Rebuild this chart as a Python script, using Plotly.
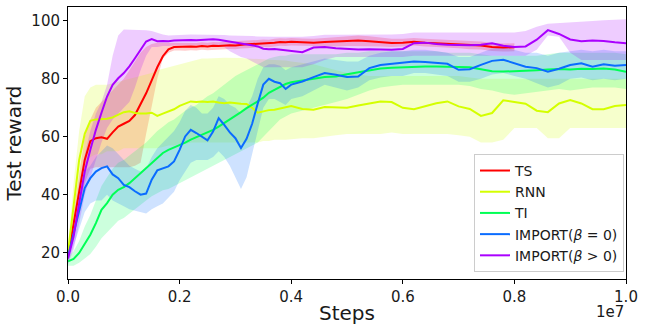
import plotly.graph_objects as go

# x positions in units of 1e7 steps
steps = [0.00, 0.01, 0.02, 0.03, 0.04, 0.05, 0.06, 0.07, 0.08, 0.09,
         0.10, 0.11, 0.12, 0.13, 0.14, 0.15, 0.16, 0.17, 0.18, 0.19,
         0.20, 0.21, 0.22, 0.23, 0.24, 0.25, 0.26, 0.27, 0.28, 0.29,
         0.30, 0.31, 0.32, 0.33, 0.34, 0.35, 0.36, 0.37, 0.38, 0.39,
         0.40, 0.42, 0.44, 0.46, 0.48, 0.50, 0.52, 0.54, 0.56, 0.58,
         0.60, 0.62, 0.64, 0.66, 0.68, 0.70, 0.72, 0.74, 0.76, 0.78,
         0.80, 0.82, 0.84, 0.86, 0.88, 0.90, 0.92, 0.94, 0.96, 0.98, 1.00]

# TS (ends at 0.80)
ts_mean = [19, 30, 41, 52, 58.5, 59.5, 59.8, 59.3, 61.5, 63.5,
           64.5, 65.5, 67.5, 71, 75, 79.5, 84, 87.8, 90.2, 91.0,
           91.1, 91.0, 91.2, 91.1, 91.3, 91.2, 91.4, 91.3, 91.5, 91.6,
           91.5, 91.8, 91.9, 92.0, 92.1, 92.3, 92.2, 92.5, 92.7, 92.6,
           92.8, 92.6, 92.5, 92.7, 92.8, 93.0, 93.2, 93.0, 92.7, 92.4,
           92.5, 92.8, 92.5, 92.3, 92.0, 91.9, 91.6, 91.5, 91.0, 90.8,
           90.9]
ts_lower = [17, 26, 35, 44, 49, 49.5, 49.5, 49.5, 49.5, 49.5,
            49.5, 49.5, 50, 51, 61, 71, 80, 87, 89, 89.8,
            89.8, 89.7, 89.9, 89.8, 90.0, 89.9, 90.1, 90.0, 90.2, 90.3,
            90.2, 90.5, 90.6, 90.7, 90.8, 91.0, 90.9, 91.2, 91.4, 91.3,
            91.5, 91.3, 91.2, 91.3, 91.2, 91.3, 91.4, 91.3, 91.2, 91.0,
            91.2, 91.5, 91.2, 91.0, 90.7, 90.6, 90.2, 90.1, 89.6, 89.4,
            89.5]
ts_upper = [21, 34, 47, 60, 66, 70, 72, 74, 76, 78,
            80, 83, 86, 89, 91, 92, 92.5, 92.5, 92.5, 92.4,
            92.4, 92.3, 92.5, 92.4, 92.6, 92.5, 92.7, 92.6, 92.8, 92.9,
            92.8, 93.1, 93.2, 93.3, 93.4, 93.6, 93.5, 93.8, 94.0, 93.9,
            94.1, 93.9, 93.8, 94.1, 94.4, 94.7, 95.0, 94.7, 94.2, 93.8,
            93.8, 94.1, 93.8, 93.6, 93.3, 93.2, 93.0, 92.9, 92.4, 92.2,
            92.3]

# RNN
rnn_mean = [20, 36, 52, 61, 65.5, 66, 66, 66.2, 66.7, 67.6,
            68.5, 68.8, 68.2, 68, 68, 68.3, 67.2, 68, 68.8, 69.5,
            70.7, 71.5, 72.2, 72.0, 72.2, 72.0, 72.2, 71.8, 71.6, 71.8,
            71.5, 71.4, 71.3, 70.0, 68.3, 68.8, 69.2, 69.3, 69.8, 70.3,
            70.6, 69.6, 69.3, 70.3, 70.2, 70.0, 70.8, 71.6, 72.2, 72.0,
            70.0, 69.5, 70.6, 71.6, 72.2, 70.5, 69.6, 67.2, 68.2, 72.6,
            72.0, 71.4, 69.0, 68.5, 71.5, 72.7, 71.5, 69.5, 69.5, 70.6, 71.0]
rnn_lower = [18, 28, 42, 50, 53, 54, 54, 55, 55, 55,
             56, 56, 56, 56, 56, 56, 56, 56.5, 57, 57,
             57.5, 57.5, 58, 58, 58, 58, 58, 58, 58, 58,
             58, 58, 58, 58, 58, 58.5, 58.5, 59, 59, 59,
             59, 59.5, 59.5, 60, 60.5, 61, 61, 61, 61, 61.5,
             61, 61, 61, 61, 61, 60.5, 60, 58, 58, 59,
             63, 63, 63, 59.5, 59.5, 63, 63, 63, 63, 63, 63]
rnn_upper = [22, 44, 62, 74, 77, 78, 78, 78, 78.5, 79,
             79.5, 80, 80.5, 81, 81.5, 82, 83, 83.5, 84, 84.5,
             85, 85.5, 86, 86.5, 87, 87, 87.2, 87.2, 87.3, 87.3,
             87.3, 87.2, 87, 87, 86.8, 86.8, 86.6, 86.5, 86.5, 86.3,
             86, 85.5, 85, 84, 83, 82, 81.5, 81, 81, 81,
             81, 81, 81, 81, 81, 81, 80.5, 80, 80, 80,
             80, 80, 80, 80, 80, 80, 80, 80, 80, 80, 80]

# TI
ti_mean = [17.0, 17.8, 19.9, 23.3, 26.2, 30.2, 34.8, 37.1, 40.0, 41.7,
           42.6, 44.0, 45.7, 47.5, 49.2, 50.9, 52.7, 54.4, 55.5, 56.3,
           57.2, 58.0, 59.0, 59.8, 60.7, 61.5, 62.4, 63.5, 64.7, 66.0,
           67.2, 68.5, 69.9, 71.0, 72.2, 73.5, 75.2, 76.2, 77.3, 78.2,
           78.8, 79.3, 80.0, 80.6, 80.8, 81.6, 82.3, 83.0, 83.6, 83.8,
           84.0, 84.2, 84.3, 84.3, 84.2, 84.3, 84.0, 83.3, 82.6, 82.5,
           82.6, 82.8, 83.0, 83.2, 83.4, 83.2, 83.5, 83.4, 83.6, 83.2, 82.4]
ti_lower = [15.5, 15.5, 16.5, 18, 19.5, 22, 25, 27, 29, 31,
            32, 33.5, 35, 36.5, 38, 39.5, 40.5, 41.5, 42, 43,
            44, 45, 46, 47, 48, 49, 50, 51, 52, 53,
            54, 55, 56, 57, 58, 60, 62, 64, 66, 67,
            68, 69, 70, 71, 72, 73, 74.5, 76, 77, 77.5,
            78, 78, 78, 78, 78, 78, 77.5, 76.5, 76, 75,
            74.5, 75, 75.5, 76, 76.5, 76, 76.5, 77, 77, 77, 76.5]
ti_upper = [18.5, 20.5, 24, 29, 33, 38, 43, 46, 49, 51,
            52, 53.5, 55, 56.5, 58, 60, 62, 63.5, 65, 66,
            67.5, 69, 70, 71, 72.5, 74, 75, 76.5, 78, 79.5,
            81, 82, 83, 84, 85, 86, 87, 87.5, 88, 88,
            88.5, 88.5, 88.5, 88.5, 88.5, 89, 89, 89.5, 89.5, 89.5,
            89.5, 89.5, 89.5, 89.5, 89, 89, 89, 88.5, 88, 88,
            88, 88, 88, 88.5, 89, 89, 89, 89, 89, 89, 88.5]

# IMPORT (beta = 0)
imp0_mean = [18.7, 26.8, 34.8, 42.3, 45.7, 48.0, 49.2, 49.8, 47.0, 45.7,
             43.4, 42.6, 41.2, 40.0, 40.4, 45.2, 48.4, 49.2, 49.8, 51.5,
             55.5, 60.1, 62.4, 61.3, 60.1, 58.8, 61.8, 66.4, 64.1, 61.5,
             59.5, 56.1, 59.3, 64.5, 71.5, 78.0, 80.0, 79.0, 78.5, 76.5,
             78.0, 79.1, 80.6, 82.0, 81.4, 80.6, 80.8, 83.7, 84.8, 85.2,
             85.4, 86.0, 85.8, 85.4, 85.2, 83.1, 83.3, 84.8, 86.2, 86.6,
             85.4, 84.2, 83.7, 82.5, 83.5, 84.8, 85.4, 84.2, 85.0, 84.5, 84.8]
imp0_lower = [16.5, 22, 28, 34, 37, 38, 38, 40, 38, 37,
              36, 35, 34.5, 34, 33.5, 35, 36, 37, 39, 41,
              45, 48, 51, 52, 52, 52, 53, 55, 53, 50,
              46, 42, 46, 54, 62, 70, 73, 73, 72, 71,
              73, 74, 76, 78, 77, 76, 77, 79.5, 80.5, 81,
              81, 82, 82, 81.5, 81, 79, 79, 80, 81.5, 82,
              81, 80, 78.5, 77, 78, 80, 80.5, 79.5, 80, 79.5, 80]
imp0_upper = [21, 31, 41, 48, 50, 53, 55, 57, 56, 54,
              52, 50, 49, 48, 49, 53, 56, 58, 60, 62,
              65, 69, 71, 70, 68, 68, 70, 74, 73, 71,
              70, 68, 70, 74, 80, 84, 85, 85, 84.5, 83,
              84, 85, 86, 87, 86.5, 86, 86, 88, 89, 89.5,
              89.5, 90, 90, 89.5, 89, 87.5, 87.5, 89, 90.5, 91,
              90, 89, 89, 88, 89, 89.5, 90, 89.5, 90, 89.5, 89.5]

# IMPORT (beta > 0)
imp1_mean = [18, 25.6, 37, 48, 55.5, 62.4, 68.3, 73.9, 77.9, 80.2,
             82, 84.3, 87.1, 90, 92.9, 93.7, 93.0, 93.1, 93.0, 93.2,
             93.3, 93.2, 93.4, 93.3, 93.5, 93.6, 93.7, 93.5, 93.2, 92.8,
             92.4, 92.2, 91.9, 91.6, 91.2, 90.4, 90.2, 90.3, 90.1, 90.0,
             89.8, 89.2, 90.8, 91.0, 90.6, 90.3, 90.1, 90.2, 90.1, 90.0,
             90.3, 92.3, 92.5, 92.0, 91.8, 91.7, 91.6, 91.8, 92.3, 91.4,
             91.0, 91.2, 93.5, 96.8, 95.5, 93.6, 93.0, 93.2, 93.1, 92.6, 92.3]
imp1_lower = [16, 21, 30, 40, 46, 52, 58, 63, 66, 68,
              70, 72, 77, 83, 88, 91, 91, 91.3, 91.3, 91.5,
              91.6, 91.5, 91.6, 91.5, 91.6, 91.6, 91.6, 91.4, 91.0, 89.5,
              88.5, 87.5, 87, 86, 85, 84, 84, 84, 84, 84,
              84, 84, 85, 86.5, 87.5, 87.5, 87.5, 87.5, 87.5, 87.5,
              87.5, 88, 88, 88, 88, 88, 88, 88, 88, 88,
              88, 88, 90, 95, 94.5, 89, 86.5, 86.5, 86.5, 86.5, 86.5]
imp1_upper = [20, 30, 44, 54, 62, 68, 72, 78, 88, 95,
              97, 97, 97, 97, 96.8, 96.5, 95.8, 95.3, 95, 95,
              95, 95.2, 95.3, 95.3, 95.3, 95.3, 95.3, 95.2, 95.1, 95,
              95, 95, 94.8, 94.8, 94.6, 94.5, 94.5, 94.5, 94.5, 94.5,
              94.5, 94.5, 94.8, 95.2, 95.2, 95.2, 95.2, 95.2, 95.2, 95.3,
              95.5, 96, 96, 96, 96, 96, 96, 96, 96, 96,
              96, 96.5, 98, 99, 99.3, 99.5, 99.7, 100, 100.2, 100.4, 100.6]

x_ticks = [0.0, 0.2, 0.4, 0.6, 0.8, 1.0]
x_tick_labels = ["0.0", "0.2", "0.4", "0.6", "0.8", "1.0"]
y_ticks = [20, 40, 60, 80, 100]

series = [
    ("TS", ts_mean, ts_lower, ts_upper, "#ff0000", "rgba(255,0,0,0.2)"),
    ("RNN", rnn_mean, rnn_lower, rnn_upper, "#d4ff00", "rgba(212,255,0,0.2)"),
    ("TI", ti_mean, ti_lower, ti_upper, "#00ff55", "rgba(0,255,85,0.2)"),
    ("IMPORT(<i>β</i> = 0)", imp0_mean, imp0_lower, imp0_upper, "#0a6cff", "rgba(10,108,255,0.2)"),
    ("IMPORT(<i>β</i> > 0)", imp1_mean, imp1_lower, imp1_upper, "#aa00ff", "rgba(170,0,255,0.2)"),
]

fig = go.Figure()

for name, m, lo, up, col, fcol in series:
    xs = steps[:len(m)]
    fig.add_trace(go.Scatter(
        x=xs + xs[::-1], y=up + lo[::-1], fill="toself", fillcolor=fcol,
        line=dict(width=0), mode="lines", showlegend=False, hoverinfo="skip"))

for name, m, lo, up, col, fcol in series:
    xs = steps[:len(m)]
    fig.add_trace(go.Scatter(
        x=xs, y=m, mode="lines", name=name,
        line=dict(color=col, width=2)))

font = "DejaVu Sans, Arial, sans-serif"
fig.update_layout(
    width=645, height=331,
    margin=dict(l=68, r=19, t=7, b=52, autoexpand=False),
    paper_bgcolor="white", plot_bgcolor="white",
    font=dict(family=font, color="#1a1a1a"),
    showlegend=True,
    legend=dict(
        x=0.9964, y=0.026, xanchor="right", yanchor="bottom",
        bgcolor="rgba(255,255,255,0.85)", bordercolor="#cccccc", borderwidth=1,
        font=dict(size=14, family=font), itemwidth=30,
    ),
    xaxis=dict(
        range=[0, 1], tickmode="array",
        tickvals=x_ticks, ticktext=x_tick_labels,
        ticks="outside", ticklen=4, tickwidth=1, tickcolor="black",
        showline=True, linecolor="black", linewidth=1, mirror=True,
        showgrid=False, zeroline=False, automargin=False,
        tickfont=dict(size=15),
        title=dict(text="Steps", font=dict(size=20), standoff=0),
    ),
    yaxis=dict(
        range=[10.9, 104.8], tickmode="array",
        tickvals=y_ticks,
        ticks="outside", ticklen=4, tickwidth=1, tickcolor="black",
        showline=True, linecolor="black", linewidth=1, mirror=True,
        showgrid=False, zeroline=False, automargin=False,
        tickfont=dict(size=15),
        title=dict(text="Test reward", font=dict(size=20), standoff=4),
    ),
)

fig.add_annotation(
    text="1e7", xref="paper", yref="paper", x=1.0, y=-0.121,
    xanchor="right", yanchor="middle", showarrow=False,
    font=dict(size=15, family=font, color="#1a1a1a"))

fig.write_html("out.html", config={"displayModeBar": False},
               post_script="document.body.style.margin='0';document.body.style.padding='0';")
